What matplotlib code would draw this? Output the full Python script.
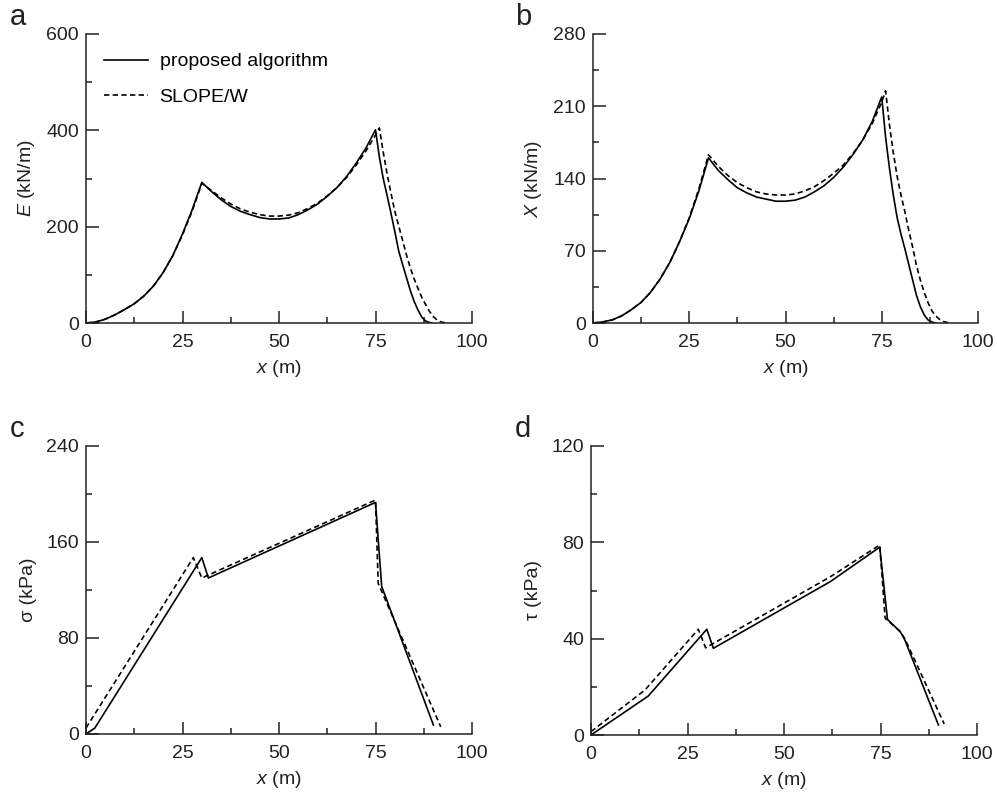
import numpy as np
import matplotlib.pyplot as plt
from matplotlib.ticker import MultipleLocator

plt.rcParams['font.family'] = ['Liberation Sans', 'DejaVu Sans']
plt.rcParams['mathtext.fontset'] = 'custom'
plt.rcParams['mathtext.rm'] = 'Liberation Sans'
plt.rcParams['mathtext.it'] = 'Liberation Sans:italic'

# ---- panel a: interslice normal force E ----
xa_prop = [0, 2.5, 5, 7.5, 10, 12.5, 15, 17.5, 20, 22.5, 25, 27.5, 30,
           32.5, 35, 37.5, 40, 42.5, 45, 47.5, 50, 52.5, 55, 57.5, 60, 62.5,
           65, 67.5, 70, 72.5, 75, 76, 77, 78, 79, 80, 81, 82, 83, 84, 85,
           86, 87, 88, 89, 89.5]
E_prop = [0, 2, 8, 17, 28, 40, 56, 77, 105, 140, 185, 235, 292,
          273, 256, 242, 232, 225, 219, 216, 216, 218, 225, 235, 247, 263,
          281, 304, 332, 363, 401, 345, 300, 265, 228, 190, 150, 122, 95, 68, 45,
          27, 12, 4, 1, 0]
xa_slope = [0, 2.5, 5, 7.5, 10, 12.5, 15, 17.5, 20, 22.5, 25, 27.5, 30,
            32.5, 35, 37.5, 40, 42.5, 45, 47.5, 50, 52.5, 55, 57.5, 60, 62.5,
            65, 67.5, 70, 72.5, 75, 76, 77, 78, 79, 80, 81, 82, 83, 84, 85,
            86, 87, 88, 89, 90, 91, 92, 93, 93.5]
E_slope = [0, 2, 8, 17, 28, 40, 56, 77, 105, 140, 183, 232, 290,
           275, 260, 247, 237, 230, 225, 222, 222, 224, 229, 238, 249, 264,
           281, 302, 328, 357, 390, 405, 355, 310, 270, 232, 202, 172, 142, 115, 92,
           72, 53, 38, 24, 13, 6, 2, 0.5, 0]

# ---- panel b: interslice shear force X ----
xb_prop = [0, 2.5, 5, 7.5, 10, 12.5, 15, 17.5, 20, 22.5, 25, 27.5, 30,
           32.5, 35, 37.5, 40, 42.5, 45, 47.5, 50, 52.5, 55, 57.5, 60, 62.5,
           65, 67.5, 70, 72.5, 75, 76, 77, 78, 79, 80, 81, 82, 83, 84, 85,
           86, 87, 88, 89]
X_prop = [0, 1, 3, 7, 13, 20, 30, 43, 59, 79, 101, 128, 160,
          148, 139, 131, 126, 122, 120, 118, 118, 119, 122, 127, 133, 141,
          151, 163, 177, 195, 219, 180, 150, 124, 102, 86, 72, 57, 42, 27, 16,
          8, 3, 1, 0]
xb_slope = [0, 2.5, 5, 7.5, 10, 12.5, 15, 17.5, 20, 22.5, 25, 27.5, 30,
            32.5, 35, 37.5, 40, 42.5, 45, 47.5, 50, 52.5, 55, 57.5, 60, 62.5,
            65, 67.5, 70, 72.5, 75, 76, 77, 78, 79, 80, 81, 82, 83, 84, 85,
            86, 87, 88, 89, 90, 91, 92, 93]
X_slope = [0, 1, 3, 7, 13, 20, 30, 43, 59, 79, 102, 130, 163,
           152, 143, 136, 131, 127, 125, 124, 124, 125, 128, 132, 138, 145,
           153, 164, 177, 193, 214, 225, 192, 165, 142, 124, 108, 90, 74, 56, 42,
           30, 20, 12, 7, 3.5, 1.5, 0.5, 0]

# ---- panel c: normal stress sigma ----
xc_prop = [0, 2.3, 30, 31.7, 75, 76.6, 90]
s_prop = [0, 5, 147, 130, 193, 123, 7.5]
xc_slope = [0, 27.8, 30, 75, 75.7, 91.9]
s_slope = [5, 147, 130, 195, 125.5, 6]

# ---- panel d: shear stress tau ----
xd_prop = [0, 14.85, 30, 31.7, 62, 74.8, 76.8, 80.1, 81.3, 90]
t_prop = [0, 16.2, 43.9, 36, 63.7, 78, 48, 42.9, 39.5, 4.2]
xd_slope = [0, 14, 27.8, 29.7, 62, 74.8, 76.2, 80.1, 81.3, 91.5]
t_slope = [1.4, 18.7, 43.9, 36.2, 65.7, 78.9, 48.5, 43, 40, 4.6]

W, H = 997, 801

# letter, axes box in pixels (left, top, right, bottom), letter position (x, baseline)
panels = [
    ("a", (86, 34, 472, 323), (10, 25), xa_prop, E_prop, xa_slope, E_slope,
     600, 200, 100, "$E$ (kN/m)"),
    ("b", (593, 34, 978, 323), (515, 25), xb_prop, X_prop, xb_slope, X_slope,
     280, 70, 35, "$X$ (kN/m)"),
    ("c", (86, 446, 472, 734), (10, 437), xc_prop, s_prop, xc_slope, s_slope,
     240, 80, 40, "σ (kPa)"),
    ("d", (591, 446, 977, 735), (515, 437), xd_prop, t_prop, xd_slope, t_slope,
     120, 40, 20, "τ (kPa)"),
]

fig = plt.figure(figsize=(W / 100, H / 100), dpi=100)
fs = 14

for letter, box, lpos, x1, y1, x2, y2, ymax, ymaj, ymin, ylab in panels:
    l, t, r, b = box
    ax = fig.add_axes([l / W, 1 - b / H, (r - l) / W, (b - t) / H])
    ax.plot(x1, y1, color="black", lw=1.2, label="proposed algorithm")
    ax.plot(x2, y2, color="black", lw=1.2, dashes=(3.2, 2), label="SLOPE/W")
    ax.set_xlim(0, 100)
    ax.set_ylim(0, ymax)
    ax.xaxis.set_major_locator(MultipleLocator(25))
    ax.xaxis.set_minor_locator(MultipleLocator(12.5))
    ax.yaxis.set_major_locator(MultipleLocator(ymaj))
    ax.yaxis.set_minor_locator(MultipleLocator(ymin))
    ax.spines["top"].set_visible(False)
    ax.spines["right"].set_visible(False)
    for s in ("left", "bottom"):
        ax.spines[s].set_linewidth(1.1)
        ax.spines[s].set_color("#222222")
    ax.tick_params(which="major", direction="in", length=9, width=1.1,
                   labelsize=fs, color="#222222", labelcolor="#222222")
    ax.tick_params(axis="y", which="major", pad=5)
    ax.tick_params(axis="x", which="major", pad=8)
    ax.tick_params(which="minor", direction="in", length=4.5, width=1.1,
                   color="#222222")
    ax.set_xlabel("$x$ (m)", fontsize=fs, labelpad=5, color="#222222")
    ax.set_ylabel(ylab, fontsize=fs, labelpad=7, color="#222222")
    fig.text(lpos[0] / W, 1 - lpos[1] / H, letter, fontsize=21,
             va="baseline", ha="left", color="#222222")
    if letter == "a":
        ax.legend(loc="upper left", frameon=False, fontsize=fs,
                  handlelength=2.25, handletextpad=0.6, labelspacing=0.9,
                  borderpad=0, borderaxespad=0,
                  bbox_to_anchor=(0.047, 0.935))

fig.savefig("out.png", dpi=100)
